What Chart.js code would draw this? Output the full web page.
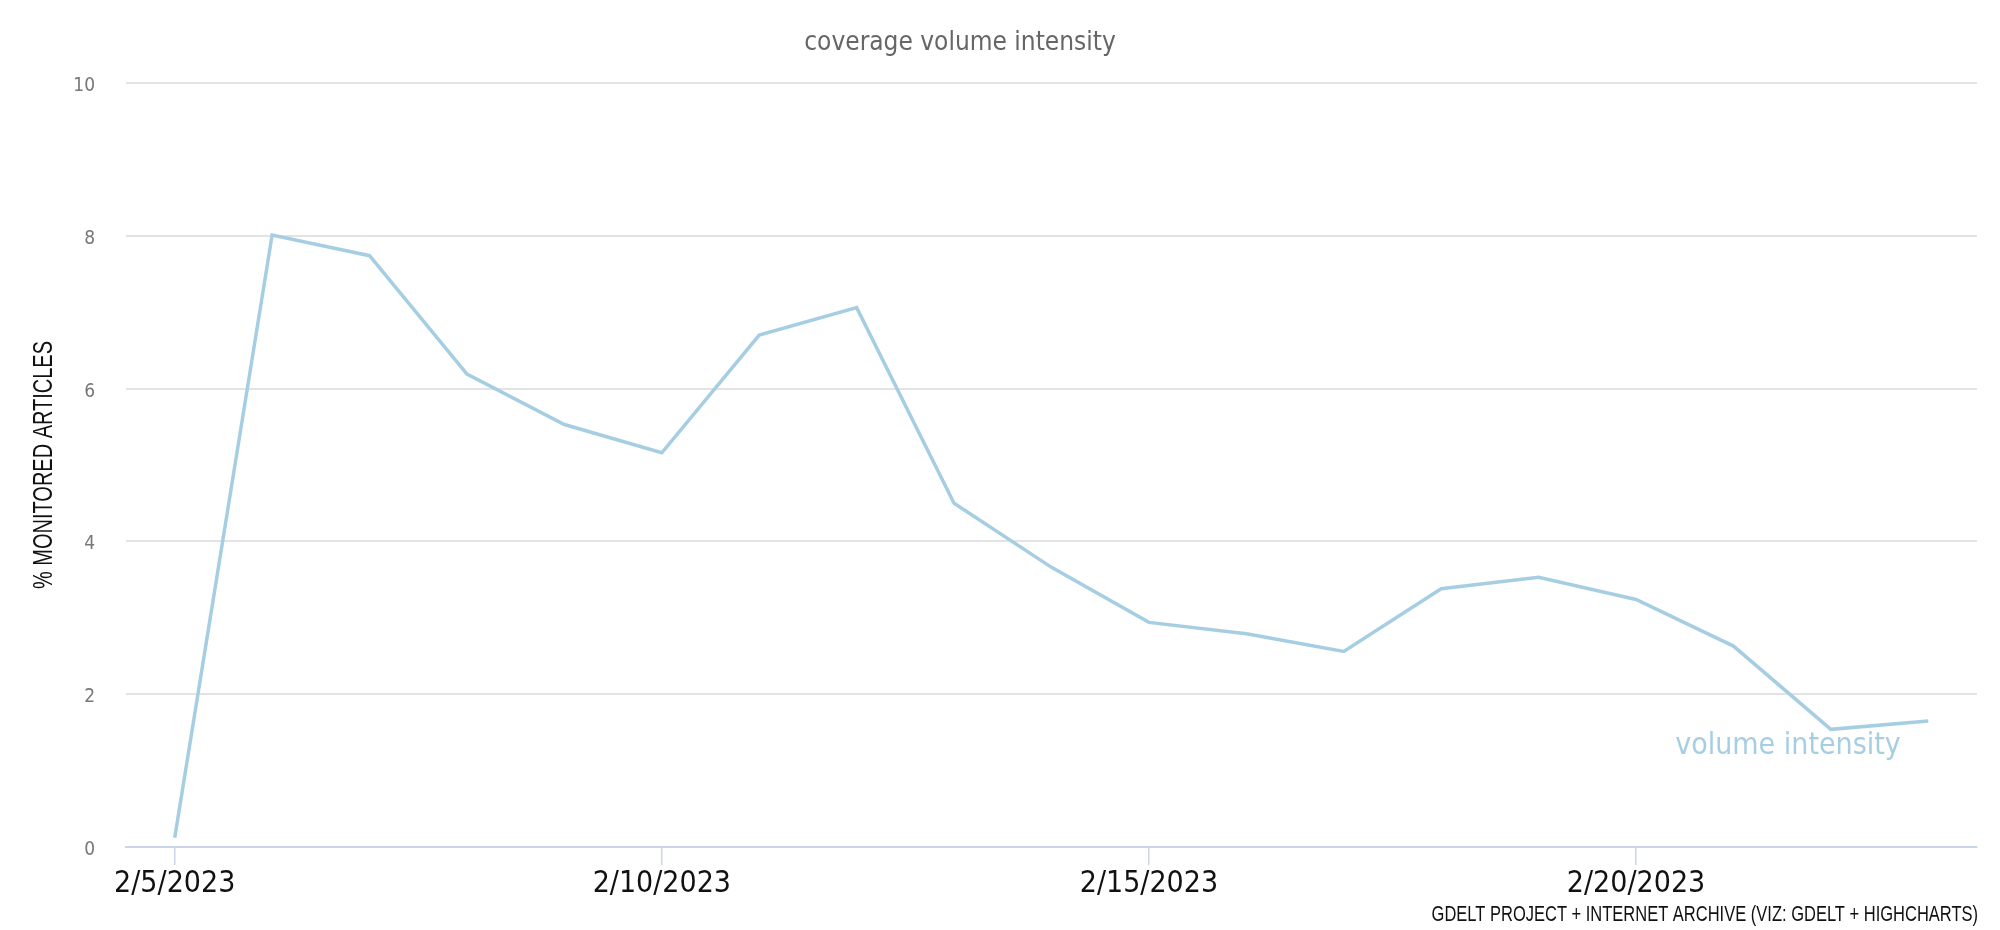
<!DOCTYPE html>
<html>
<head>
<meta charset="utf-8">
<title>Coverage Volume Intensity</title>
<script src="https://cdn.jsdelivr.net/npm/chart.js@4/dist/chart.umd.min.js"></script>
<style>
  html, body { margin: 0; padding: 0; background: #fff; }
  #wrap { width: 2000px; height: 930px; }
</style>
</head>
<body>
<div id="wrap"><canvas id="chart" width="2000" height="930"></canvas></div>
<script>
// dates (one point per day) and % of monitored articles
const dates = [
  '2/5/2023', '2/6/2023', '2/7/2023', '2/8/2023', '2/9/2023', '2/10/2023',
  '2/11/2023', '2/12/2023', '2/13/2023', '2/14/2023', '2/15/2023', '2/16/2023',
  '2/17/2023', '2/18/2023', '2/19/2023', '2/20/2023', '2/21/2023', '2/22/2023',
  '2/23/2023'
];
const volumeIntensity = [
  0.12, 8.01, 7.74, 6.19, 5.53, 5.16, 6.70, 7.06, 4.50, 3.66,
  2.94, 2.79, 2.56, 3.38, 3.53, 3.24, 2.63, 1.54, 1.65
];
const yTicks = [0, 2, 4, 6, 8, 10];

const chartTitle = 'coverage volume intensity';
const seriesName = 'volume intensity';
const yTitle = '% MONITORED ARTICLES';
const credits = 'GDELT PROJECT + INTERNET ARCHIVE (VIZ: GDELT + HIGHCHARTS)';

const lineColor = '#a6cee3';

// title, axis title, series label and credits drawn as canvas text
// (squeezed horizontally to get the narrow look of the original font)
const textPlugin = {
  id: 'extraText',
  afterDraw(chart) {
    const ctx = chart.ctx;
    const area = chart.chartArea;
    ctx.save();

    ctx.fillStyle = '#666';
    ctx.font = '26px "DejaVu Sans Condensed", sans-serif';
    ctx.textAlign = 'center';
    ctx.textBaseline = 'middle';
    ctx.fillText(chartTitle, 960, 43);

    const ds = chart.data.datasets[0];
    ctx.fillStyle = ds.borderColor;
    ctx.font = '30px "DejaVu Sans Condensed", sans-serif';
    ctx.fillText(seriesName, area.right - 189, area.bottom - 101);

    // y axis title
    ctx.save();
    ctx.translate(45, (area.top + area.bottom) / 2);
    ctx.rotate(-Math.PI / 2);
    ctx.scale(0.74, 1);
    ctx.fillStyle = '#111';
    ctx.font = '27px "Liberation Sans", sans-serif';
    ctx.fillText(yTitle, 0, 0);
    ctx.restore();

    // credits
    ctx.save();
    ctx.translate(area.right + 1, 921);
    ctx.scale(0.75, 1);
    ctx.fillStyle = '#111';
    ctx.font = '22px "Liberation Sans", sans-serif';
    ctx.textAlign = 'right';
    ctx.textBaseline = 'alphabetic';
    ctx.fillText(credits, 0, 0);
    ctx.restore();

    ctx.restore();
  }
};

new Chart(document.getElementById('chart').getContext('2d'), {
  type: 'line',
  data: {
    labels: dates,
    datasets: [
      {
        label: seriesName,
        data: volumeIntensity,
        borderColor: lineColor,
        backgroundColor: lineColor,
        borderWidth: 3.5,
        pointRadius: 0,
        tension: 0,
        fill: false,
      },
    ],
  },
  options: {
    responsive: false,
    animation: false,
    layout: { padding: { left: 0, right: 23, top: 83, bottom: 0 } },
    plugins: {
      legend: { display: false },
      title: { display: false },
      tooltip: { enabled: false },
    },
    scales: {
      x: {
        type: 'category',
        offset: true,
        afterBuildTicks: (scale) => {
          scale.ticks = scale.ticks.filter((t) => t.value % 5 === 0);
        },
        afterFit: (scale) => { scale.height = 83; },
        grid: {
          offset: false,
          drawOnChartArea: false,
          drawTicks: true,
          tickLength: 18,
          color: '#ccd6eb',
          lineWidth: 1.5,
        },
        border: { display: true, color: '#ccd6eb', width: 2 },
        ticks: {
          autoSkip: false,
          maxRotation: 0,
          padding: 1,
          color: '#111',
          font: { family: '"DejaVu Sans Condensed", sans-serif', size: 30 },
        },
      },
      y: {
        min: 0,
        max: 10,
        afterBuildTicks: (scale) => {
          scale.ticks = yTicks.map((v) => ({ value: v }));
        },
        afterFit: (scale) => { scale.width = 126; },
        grid: { color: '#e3e3e3', lineWidth: 2, drawTicks: false },
        border: { display: false },
        ticks: {
          padding: 31,
          labelOffset: 3,
          color: '#777',
          font: { family: '"DejaVu Sans Condensed", sans-serif', size: 19 },
        },
      },
    },
  },
  plugins: [textPlugin],
});
</script>
</body>
</html>
